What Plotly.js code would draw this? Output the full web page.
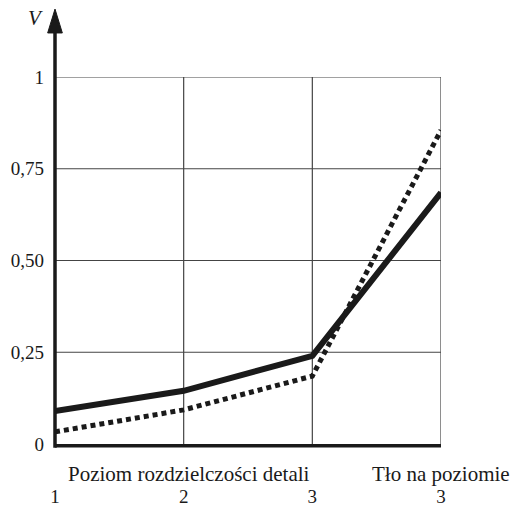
<!DOCTYPE html>
<html>
<head>
<meta charset="utf-8">
<script src="https://cdn.plot.ly/plotly-3.0.1.min.js"></script>
<style>
html,body{margin:0;padding:0;background:#fff;}
#chart{width:517px;height:506px;}
#chart svg text{font-family:'Liberation Serif','Times New Roman',serif !important;}
</style>
</head>
<body>
<div id="chart"></div>
<script>
const xPositions = [0, 1, 2, 3];
const xTickLabels = ['1', '2', '3', '3'];
const solidSeries = [0.09, 0.145, 0.24, 0.685];
const dottedSeries = [0.033, 0.093, 0.185, 0.855];
const yTickVals = [0, 0.25, 0.5, 0.75, 1];
const yTickLabels = ['0', '0,25', '0,50', '0,75', '1'];
const axisLabelLeft = 'Poziom rozdzielczości detali';
const axisLabelRight = 'Tło na poziomie';
const yAxisName = 'V';

const FAMILY = 'Liberation Serif';
const INK = '#1a1a1a';

const traces = [
  {x: xPositions, y: solidSeries, mode: 'lines', line: {color: INK, width: 6}},
  {x: xPositions, y: dottedSeries, mode: 'lines', line: {color: INK, width: 5, dash: '5px,4px'}}
];

const layout = {
  width: 517, height: 506,
  margin: {l: 55, r: 76, t: 77, b: 62},
  paper_bgcolor: '#fff', plot_bgcolor: '#fff',
  showlegend: false,
  font: {family: FAMILY, size: 19, color: INK},
  xaxis: {
    range: [0, 3],
    tickvals: xPositions, ticktext: xTickLabels,
    showgrid: false, zeroline: false, showline: false, ticks: '',
    ticklabelstandoff: 39,
    tickfont: {family: FAMILY, size: 19, color: INK}
  },
  yaxis: {
    range: [0, 1],
    tickvals: yTickVals, ticktext: yTickLabels,
    showgrid: false, zeroline: false, showline: false, ticks: '',
    ticklabelstandoff: 10,
    tickfont: {family: FAMILY, size: 19, color: INK}
  },
  shapes: [],
  annotations: [
    {xref: 'paper', yref: 'paper', x: (189 - 55) / 386, y: (444 - 474) / 367, text: axisLabelLeft, showarrow: false, xanchor: 'center', yanchor: 'middle', font: {family: FAMILY, size: 21, color: INK}},
    {xref: 'paper', yref: 'paper', x: (441 - 55) / 386, y: (444 - 474) / 367, text: axisLabelRight, showarrow: false, xanchor: 'center', yanchor: 'middle', font: {family: FAMILY, size: 21, color: INK}},
    {xref: 'paper', yref: 'paper', x: (35 - 55) / 386, y: (444 - 18) / 367, text: '<i>' + yAxisName + '</i>', showarrow: false, xanchor: 'center', yanchor: 'middle', font: {family: FAMILY, size: 21, color: INK}}
  ]
};

// grid lines
yTickVals.slice(1).forEach(v => {
  layout.shapes.push({type: 'line', xref: 'x', yref: 'y', x0: 0, x1: 3, y0: v, y1: v, line: {color: '#444', width: 1.2}, layer: 'below'});
});
xPositions.slice(1).forEach(v => {
  layout.shapes.push({type: 'line', xref: 'x', yref: 'y', x0: v, x1: v, y0: 0, y1: 1, line: {color: '#444', width: 1.2}, layer: 'below'});
});
// x axis line
layout.shapes.push({type: 'line', xref: 'paper', yref: 'paper', x0: 0, x1: 1, y0: -0.005, y1: -0.005, line: {color: INK, width: 3.5}});
// y axis line with arrow
layout.shapes.push({type: 'line', xref: 'paper', yref: 'paper', x0: 0, x1: 0, y0: -0.01, y1: 1.13, line: {color: INK, width: 3.5}});
layout.shapes.push({type: 'path', xref: 'paper', yref: 'paper', path: 'M -0.019 1.12 L 0.019 1.12 L 0 1.185 Z', fillcolor: INK, line: {color: INK, width: 1}});

Plotly.newPlot('chart', traces, layout, {displayModeBar: false, staticPlot: true});
</script>
</body>
</html>
